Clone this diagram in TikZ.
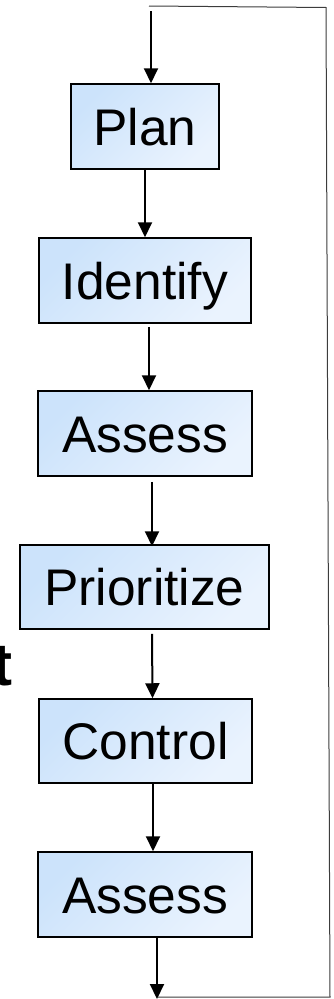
\documentclass[tikz,border=0pt]{standalone}
\usepackage{fontspec}
\setmainfont{Liberation Sans}
\usetikzlibrary{arrows.meta,calc}
\definecolor{boxtop}{RGB}{204,227,251}
\definecolor{boxbot}{RGB}{234,243,254}
\definecolor{loopgray}{RGB}{60,60,60}
\tikzset{
  stepbox/.style={draw=black, line width=1.5pt, shading=axis, top color=boxtop, bottom color=boxbot, shading angle=45,
    inner sep=0pt, minimum height=85pt, text height=37pt, text depth=0pt,
    font=\fontsize{51.5}{60}\selectfont},
  flowarrow/.style={line width=2pt, -{Triangle[length=15pt,width=14pt]}},
  loopline/.style={line width=1pt, draw=loopgray}
}
\begin{document}
\begin{tikzpicture}[x=1pt,y=-1pt]
\useasboundingbox (0,0) rectangle (333,999);
\node[stepbox, minimum width=148pt] (plan) at (145,126.5) {Plan};
\node[stepbox, minimum width=212pt] (identify) at (145,280.5) {Identify};
\node[stepbox, minimum width=214pt] (assess1) at (145,433.5) {Assess};
\node[stepbox, minimum width=249pt, minimum height=84pt] (prior) at (144.5,587) {Prioritize};
\node[stepbox, minimum width=213pt, minimum height=84pt] (control) at (145.5,741) {Control};
\node[stepbox, minimum width=214pt] (assess2) at (145,894.5) {Assess};
\node[font=\bfseries\fontsize{60}{70}\selectfont, inner sep=0pt, anchor=base east] (tlabel) at (12.5,685) {t};
\coordinate (start) at (151,11);
\coordinate (loopa) at (149,6);
\coordinate (loopb) at (326,7.5);
\coordinate (loopc) at (330,997);
\coordinate (loopd) at (158,997);
\coordinate (endp) at (157,999);
\draw[loopline] (loopa) -- (loopb) -- (loopc) -- (loopd);
\draw[flowarrow] (start) -- ($(plan.north)+(6,0)$);
\draw[flowarrow] (plan.south) -- (identify.north);
\draw[flowarrow] ($(identify.south)+(4,3)$) -- ($(assess1.north)+(4,0)$);
\draw[flowarrow] ($(assess1.south)+(7,5)$) -- ($(prior.north)+(7.5,2)$);
\draw[flowarrow] ($(prior.south)+(7.5,4)$) -- ($(control.north)+(7,0)$);
\draw[flowarrow] ($(control.south)+(7.5,0)$) -- ($(assess2.north)+(8,0)$);
\draw[flowarrow] ($(assess2.south)+(12,0)$) -- (endp);
\end{tikzpicture}
\end{document}
